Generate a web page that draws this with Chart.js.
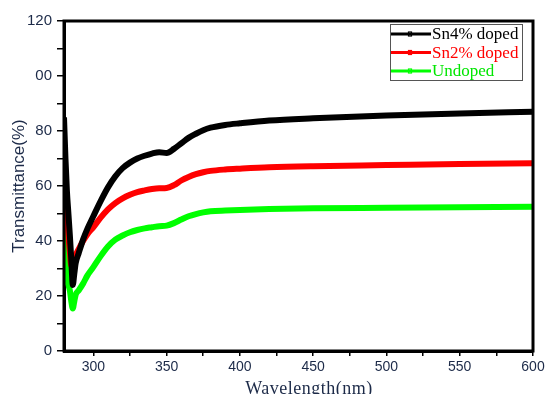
<!DOCTYPE html>
<html>
<head>
<meta charset="utf-8">
<script src="https://cdn.jsdelivr.net/npm/chart.js@4"></script>
<style>
html,body{margin:0;padding:0;background:#fff;}
#wrap{width:548px;height:394px;}
</style>
</head>
<body>
<div id="wrap"><canvas id="chart" width="548" height="394"></canvas></div>
<script>

// wavelength (nm)
const wavelength = [280,281,282,283,284,285,286,287,288,290,293,296,300,305,310,315,320,325,330,335,340,345,350,355,360,365,370,375,380,390,400,420,450,500,550,600];

// transmittance (%)
const sn4 = [85,70,58,50,42,33,24,28,32,35.5,40.5,44.5,49,54.5,59.5,63.5,66.5,68.5,70,71,71.8,72.3,72,73.5,75.5,77.5,79,80.3,81.2,82.2,82.8,83.8,84.6,85.6,86.4,87];
const sn2 = [72,60,50,42,36,31,32,34,35,37,40,42.5,45,48.5,51.5,53.8,55.5,56.8,57.8,58.4,58.9,59.2,59.3,60.3,62,63.3,64.3,65,65.5,66,66.3,66.8,67.2,67.6,68,68.3];
const undoped = [44,35,26,24,22,18,15.5,18,20.5,22,24.5,27.5,30.5,34.5,38,40.5,42,43.2,44,44.6,45,45.4,45.6,46.5,47.8,49,49.8,50.4,50.8,51.1,51.3,51.6,51.9,52.1,52.3,52.5];

const seriesNames = ["Sn4% doped","Sn2% doped","Undoped"];
const seriesColors = ["#000000","#ff0000","#00ff00"];

const xTicks = [300,325,350,375,400,425,450,475,500,525,550,575,600];
const xTickLabels = {300:"300",350:"350",400:"400",450:"450",500:"500",550:"550",600:"600"};
const yTicks = [0,10,20,30,40,50,60,70,80,90,100,110,120];
const yTickLabels = {0:"0",20:"20",40:"40",60:"60",80:"80",100:"00",120:"120"};

function pts(vals){
  return wavelength.map((w,i)=>({x:w,y:vals[i]}));
}

const frame = {
  id:"frame",
  afterDatasetsDraw(chart){
    const a = chart.chartArea, c = chart.ctx;
    c.save();
    c.strokeStyle="#000";
    c.lineWidth=3;
    c.strokeRect(a.left,a.top,a.right-a.left,a.bottom-a.top);
    c.restore();
  }
};

// axis titles drawn by hand so they sit where the original has them
const axisTitles = {
  id:"axisTitles",
  afterDraw(chart){
    const c = chart.ctx;
    c.save();
    c.fillStyle="#1c2a48";
    c.textAlign="center";
    c.textBaseline="middle";
    c.font="17px 'Liberation Sans', Arial, sans-serif";
    c.translate(19,186);
    c.rotate(-Math.PI/2);
    c.fillText("Transmittance(%)",0,0);
    c.restore();

    c.save();
    c.fillStyle="#1c2a48";
    c.textAlign="center";
    c.textBaseline="alphabetic";
    c.font="18px 'Liberation Serif', 'Times New Roman', serif";
    if ("letterSpacing" in c) c.letterSpacing="0.5px";
    c.fillText("Wavelength(nm)",309,394);
    c.restore();
  }
};

const boxLegend = {
  id:"boxLegend",
  afterDraw(chart){
    const c = chart.ctx;
    c.save();
    c.fillStyle="#fff";
    c.fillRect(390,24,132,56);
    c.strokeStyle="#555";
    c.lineWidth=1;
    c.strokeRect(390.5,24.5,132,56);
    c.font="17px 'Liberation Serif', 'Times New Roman', serif";
    c.textBaseline="middle";
    chart.data.datasets.forEach((ds,i)=>{
      const y = 34+i*18.5;
      c.strokeStyle=ds.borderColor;
      c.lineWidth=3;
      c.beginPath();
      c.moveTo(391,y);
      c.lineTo(431,y);
      c.stroke();
      c.lineWidth=1.2;
      c.strokeRect(408.5,y-2,3,4);
      c.fillStyle=ds.borderColor==="#00ff00" ? "#00e600" : ds.borderColor;
      c.fillText(ds.label,432,y+1);
    });
    c.restore();
  }
};

new Chart(document.getElementById("chart"),{
  type:"line",
  data:{
    datasets:[
      {label:seriesNames[0],data:pts(sn4),borderColor:seriesColors[0]},
      {label:seriesNames[1],data:pts(sn2),borderColor:seriesColors[1]},
      {label:seriesNames[2],data:pts(undoped),borderColor:seriesColors[2]}
    ].map(d=>Object.assign(d,{borderWidth:6,pointRadius:0,fill:false,cubicInterpolationMode:"monotone"}))
  },
  options:{
    responsive:false,
    animation:false,
    layout:{padding:{top:21,right:15,left:0,bottom:0}},
    plugins:{legend:{display:false},tooltip:{enabled:false}},
    scales:{
      x:{
        type:"linear",
        min:280,max:600,
        afterBuildTicks(s){ s.ticks = xTicks.map(v=>({value:v})); },
        afterFit(s){ s.height = 43; },
        grid:{drawOnChartArea:false,drawTicks:true,tickLength:5,color:"#000",lineWidth:1.5},
        border:{display:true,color:"#000",width:3},
        ticks:{
          autoSkip:false,maxRotation:0,padding:3,
          color:"#1c2a48",
          font:{family:"'Liberation Sans', Arial, sans-serif",size:14},
          callback:v=>xTickLabels[v] || ""
        }
      },
      y:{
        min:0,max:120,
        afterBuildTicks(s){ s.ticks = yTicks.map(v=>({value:v})); },
        afterFit(s){ s.width = 64; },
        grid:{drawOnChartArea:false,drawTicks:true,tickLength:7,color:"#000",lineWidth:1.5},
        border:{display:true,color:"#000",width:3},
        ticks:{
          autoSkip:false,padding:5,
          color:"#1c2a48",
          font:{family:"'Liberation Sans', Arial, sans-serif",size:15},
          callback:v=>yTickLabels[v] || ""
        }
      }
    }
  },
  plugins:[frame,axisTitles,boxLegend]
});
</script>
</body>
</html>
